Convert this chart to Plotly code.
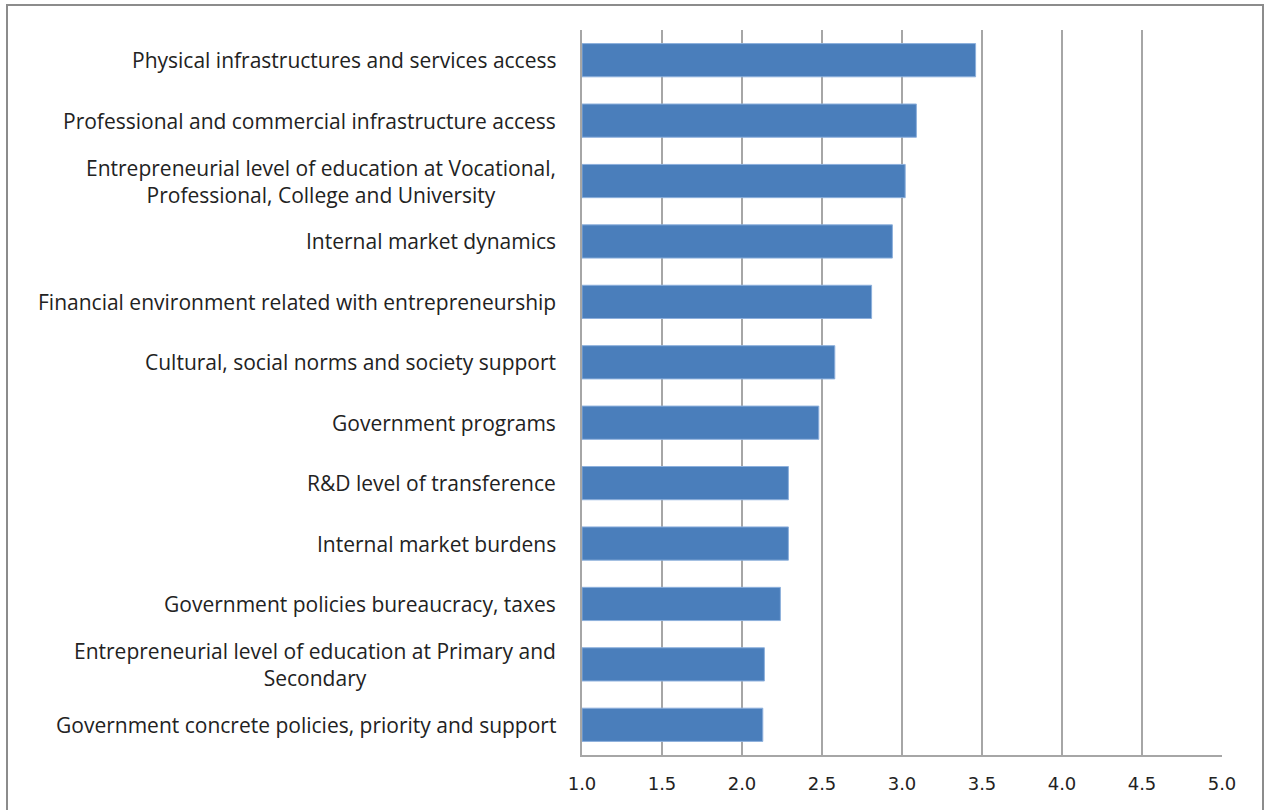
import plotly.graph_objects as go

# Factors, listed top to bottom
factors = [
    "Physical infrastructures and services access",
    "Professional and commercial infrastructure access",
    "Entrepreneurial level of education at Vocational,<br>Professional, College and University",
    "Internal market dynamics",
    "Financial environment related with entrepreneurship",
    "Cultural, social norms and society support",
    "Government programs",
    "R&D level of transference",
    "Internal market burdens",
    "Government policies bureaucracy, taxes",
    "Entrepreneurial level of education at Primary and<br>Secondary",
    "Government concrete policies, priority and support",
]
scores = [3.46, 3.09, 3.02, 2.94, 2.81, 2.58, 2.48, 2.29, 2.29, 2.24, 2.14, 2.13]
x_ticks = [1.0, 1.5, 2.0, 2.5, 3.0, 3.5, 4.0, 4.5, 5.0]
x_labels = [f"{v:.1f}" for v in x_ticks]

W, H = 1265, 810
L, R, T, B = 582, 43, 30, 55
pw, ph = W - L - R, H - T - B

fig = go.Figure()
fig.add_trace(go.Bar(
    y=factors,
    x=[s - 1.0 for s in scores],
    base=1.0,
    orientation="h",
    marker=dict(color="#4A7EBB", line=dict(color="#8DB0DC", width=1)),
    hoverinfo="skip",
))

# Category labels: right-aligned block, centred lines
annotations = []
for f in factors:
    annotations.append(dict(
        x=0, xref="paper", y=f, yref="y",
        text=f, showarrow=False, xanchor="right", align="center",
        xshift=-24,
        font=dict(family="Open Sans, sans-serif", size=21, color="#222222"),
    ))

def px_to_paper_x(px):
    return (px - L) / pw

def px_to_paper_y(py):
    return (H - B - py) / ph

fig.update_layout(
    width=W, height=H,
    margin=dict(l=L, r=R, t=T, b=B),
    paper_bgcolor="white", plot_bgcolor="white",
    showlegend=False,
    bargap=0.45,
    annotations=annotations,
    shapes=[dict(
        type="rect", xref="paper", yref="paper",
        x0=px_to_paper_x(7), x1=px_to_paper_x(1263),
        y0=px_to_paper_y(830), y1=px_to_paper_y(5),
        line=dict(color="#8C8C8C", width=2), fillcolor="rgba(0,0,0,0)",
        layer="below",
    )],
    xaxis=dict(
        range=[1.0, 5.0],
        tickvals=x_ticks, ticktext=x_labels,
        showgrid=True, gridcolor="#A6A6A6", gridwidth=1.5,
        showline=True, linecolor="#A6A6A6", linewidth=1.5,
        zeroline=False, ticks="",
        tickfont=dict(family="DejaVu Sans, sans-serif", size=18, color="#222222"),
        ticklabelstandoff=12,
    ),
    yaxis=dict(
        autorange="reversed",
        showticklabels=False,
        showline=True, linecolor="#A6A6A6", linewidth=1.5,
        showgrid=False, ticks="",
    ),
)

fig.write_html("out.html")
